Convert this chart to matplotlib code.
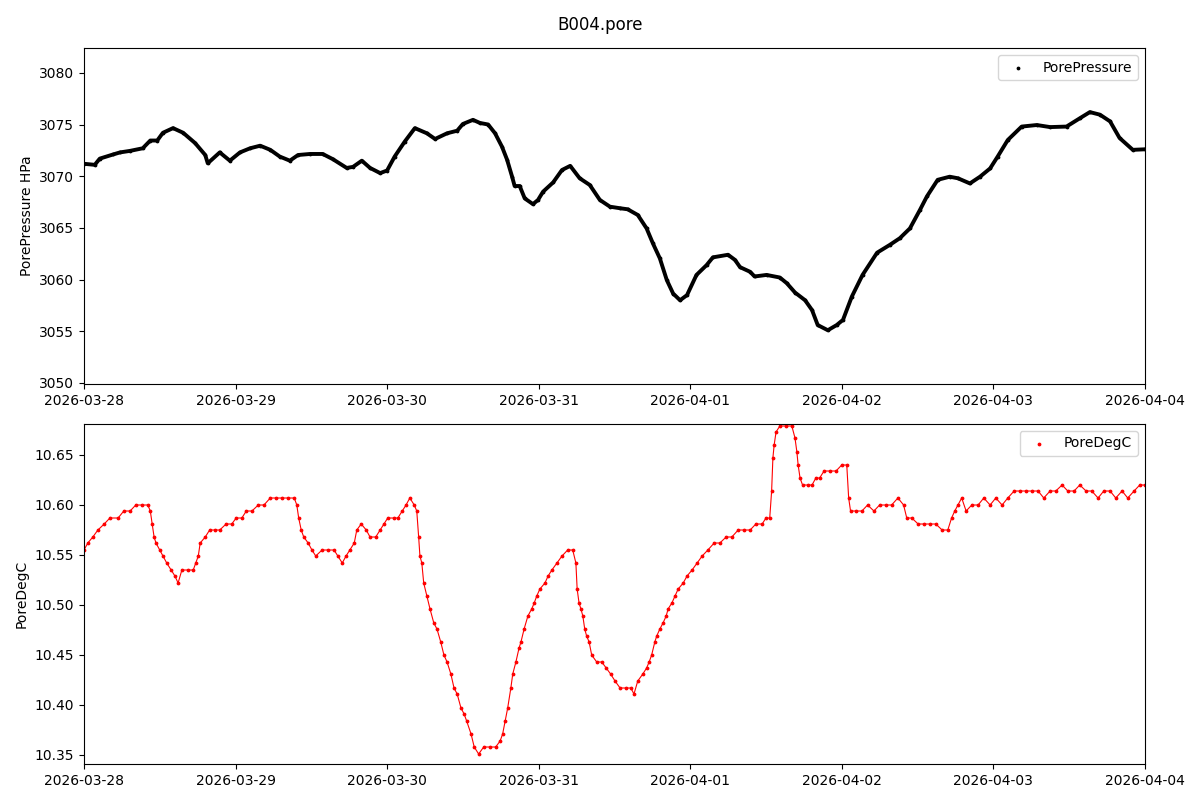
import numpy as np
import pandas as pd
import matplotlib
matplotlib.use("Agg")
import matplotlib.pyplot as plt
import matplotlib.dates as mdates

# readings of station B004, hours after 2026-03-28 00:00
start = pd.Timestamp("2026-03-28")

pres_hours = [0.0, 1.7, 2.5, 4.6, 5.7, 7.3, 9.3, 10.5, 11.6, 12.5, 14.1, 15.7, 17.6, 19.2, 19.6,
              21.5, 23.1, 24.7, 26.3, 27.9, 29.5, 31.0, 32.6, 33.9, 35.8, 37.8, 39.4, 41.6, 42.6,
              44.0, 45.3, 46.9, 48.0, 49.2, 50.8, 52.4, 54.3, 55.6, 57.5, 59.1, 60.0, 61.6, 62.7,
              64.0, 65.1, 66.2, 67.0, 67.8, 68.2, 69.0, 69.8, 71.1, 71.9, 72.7, 74.3, 75.7, 77.0,
              78.5, 80.1, 81.7, 83.3, 84.9, 86.1, 87.7, 89.1, 90.1, 91.2, 92.3, 93.3, 94.4, 95.5,
              97.0, 98.6, 99.6, 102.0, 103.1, 103.9, 105.5, 106.2, 108.1, 110.2, 111.3, 112.6,
              114.2, 115.3, 116.2, 117.8, 119.2, 120.2, 121.6, 123.3, 125.6, 127.6, 129.2, 130.8,
              132.4, 133.5, 135.2, 137.1, 138.4, 140.3, 141.9, 143.5, 144.7, 146.3, 148.5, 150.9,
              153.0, 155.6, 157.7, 159.3, 160.9, 162.5, 164.0, 166.1, 168.0]
pres_vals = [3071.2, 3071.1, 3071.7, 3072.1, 3072.3, 3072.45, 3072.7, 3073.45, 3073.45, 3074.2,
             3074.65, 3074.2, 3073.2, 3072.05, 3071.25, 3072.3, 3071.5, 3072.3, 3072.7, 3072.95,
             3072.55, 3071.9, 3071.5, 3072.05, 3072.15, 3072.15, 3071.65, 3070.8, 3070.9, 3071.5,
             3070.8, 3070.3, 3070.55, 3071.9, 3073.35, 3074.65, 3074.15, 3073.6, 3074.15, 3074.4,
             3075.05, 3075.45, 3075.15, 3075.0, 3074.15, 3072.85, 3071.6, 3069.95, 3069.05, 3069.05,
             3067.85, 3067.3, 3067.7, 3068.5, 3069.4, 3070.6, 3071.0, 3069.8, 3069.15, 3067.7,
             3067.05, 3066.9, 3066.8, 3066.25, 3064.95, 3063.5, 3062.05, 3059.95, 3058.65, 3058.0,
             3058.5, 3060.45, 3061.4, 3062.15, 3062.4, 3061.9, 3061.2, 3060.75, 3060.3, 3060.45,
             3060.2, 3059.65, 3058.75, 3058.0, 3057.05, 3055.6, 3055.1, 3055.6, 3056.1, 3058.35,
             3060.45, 3062.6, 3063.35, 3064.0, 3064.95, 3066.75, 3068.05, 3069.65, 3069.95, 3069.8,
             3069.3, 3069.95, 3070.75, 3071.9, 3073.5, 3074.8, 3074.95, 3074.75, 3074.8, 3075.6,
             3076.2, 3075.95, 3075.3, 3073.7, 3072.55, 3072.6]

temp_hours = [0.0, 0.6, 1.4, 2.2, 3.2, 4.1, 5.4, 6.3, 7.3, 8.2, 9.2, 10.1, 10.5, 10.8, 11.1, 11.4,
              12.0, 12.5, 13.1, 13.8, 14.4, 14.9, 15.5, 16.5, 17.3, 17.7, 18.1, 18.4, 19.2, 19.9,
              20.7, 21.5, 22.5, 23.4, 24.1, 25.0, 25.7, 26.6, 27.6, 28.5, 29.5, 30.4, 31.4, 32.3,
              33.3, 33.7, 34.0, 34.4, 34.8, 35.5, 36.1, 36.7, 37.7, 38.6, 39.6, 40.2, 40.9, 41.5,
              42.1, 42.8, 43.2, 43.9, 44.7, 45.3, 46.2, 46.9, 47.5, 48.1, 49.1, 49.7, 50.4, 51.0,
              51.6, 52.3, 52.7, 53.0, 53.2, 53.5, 53.8, 54.3, 54.8, 55.4, 55.9, 56.5, 57.0, 57.5,
              58.1, 58.6, 59.1, 59.7, 60.2, 60.6, 61.3, 61.8, 62.5, 63.3, 64.3, 65.2, 65.9, 66.3,
              66.7, 67.1, 67.6, 67.9, 68.4, 68.9, 69.2, 69.7, 70.3, 70.9, 71.3, 71.7, 72.2, 73.0,
              73.5, 74.1, 74.9, 75.7, 76.6, 77.4, 77.9, 78.1, 78.4, 78.7, 79.0, 79.3, 79.6, 80.0,
              80.4, 81.2, 82.0, 82.7, 83.4, 84.1, 84.9, 85.8, 86.6, 87.1, 87.7, 88.5, 89.1, 89.5,
              89.9, 90.4, 90.7, 91.2, 91.7, 92.2, 92.5, 93.1, 93.6, 94.1, 94.9, 95.5, 96.3, 97.1,
              97.9, 98.8, 99.8, 100.7, 101.7, 102.6, 103.6, 104.5, 105.5, 106.4, 107.4, 108.0,
              108.6, 108.9, 109.1, 109.3, 109.6, 110.2, 111.2, 112.1, 112.6, 112.9, 113.1, 113.4,
              113.8, 114.6, 115.3, 115.9, 116.5, 117.2, 118.1, 119.1, 120.0, 120.8, 121.1, 121.4,
              122.2, 123.2, 124.1, 125.1, 126.0, 127.0, 127.9, 128.9, 129.8, 130.3, 131.1, 132.1,
              133.0, 134.0, 134.9, 135.9, 136.8, 137.4, 137.9, 138.4, 139.0, 139.7, 140.6, 141.6,
              142.5, 143.5, 144.4, 145.4, 146.3, 147.3, 148.2, 149.2, 150.1, 151.1, 152.0, 153.0,
              153.9, 154.9, 155.8, 156.8, 157.7, 158.7, 159.6, 160.6, 161.5, 162.5, 163.4, 164.4,
              165.3, 166.3, 167.2, 168.0]
temp_vals = [10.555, 10.562, 10.568, 10.575, 10.581, 10.587, 10.587, 10.594, 10.594, 10.600, 10.600,
             10.600, 10.594, 10.581, 10.568, 10.562, 10.555, 10.549, 10.542, 10.535, 10.529, 10.522,
             10.535, 10.535, 10.535, 10.542, 10.549, 10.562, 10.568, 10.575, 10.575, 10.575, 10.581,
             10.581, 10.587, 10.587, 10.594, 10.594, 10.600, 10.600, 10.607, 10.607, 10.607, 10.607,
             10.607, 10.600, 10.587, 10.575, 10.568, 10.562, 10.555, 10.549, 10.555, 10.555, 10.555,
             10.549, 10.542, 10.549, 10.555, 10.562, 10.575, 10.581, 10.575, 10.568, 10.568, 10.575,
             10.581, 10.587, 10.587, 10.587, 10.594, 10.600, 10.607, 10.600, 10.594, 10.568, 10.549,
             10.542, 10.522, 10.509, 10.496, 10.482, 10.476, 10.463, 10.450, 10.443, 10.431, 10.417,
             10.411, 10.397, 10.391, 10.384, 10.371, 10.358, 10.351, 10.358, 10.358, 10.358, 10.364,
             10.371, 10.384, 10.397, 10.417, 10.431, 10.443, 10.457, 10.463, 10.476, 10.489, 10.496,
             10.502, 10.509, 10.516, 10.522, 10.529, 10.535, 10.542, 10.549, 10.555, 10.555, 10.542,
             10.516, 10.502, 10.496, 10.489, 10.476, 10.469, 10.463, 10.450, 10.443, 10.443, 10.437,
             10.431, 10.424, 10.417, 10.417, 10.417, 10.411, 10.424, 10.431, 10.437, 10.443, 10.450,
             10.463, 10.469, 10.476, 10.482, 10.489, 10.496, 10.502, 10.509, 10.516, 10.522, 10.529,
             10.535, 10.542, 10.549, 10.555, 10.562, 10.562, 10.568, 10.568, 10.575, 10.575, 10.575,
             10.581, 10.581, 10.587, 10.587, 10.614, 10.647, 10.660, 10.673, 10.679, 10.679, 10.679,
             10.667, 10.653, 10.640, 10.627, 10.620, 10.620, 10.620, 10.627, 10.627, 10.634, 10.634,
             10.634, 10.640, 10.640, 10.607, 10.594, 10.594, 10.594, 10.600, 10.594, 10.600, 10.600,
             10.600, 10.607, 10.600, 10.587, 10.587, 10.581, 10.581, 10.581, 10.581, 10.575, 10.575,
             10.587, 10.594, 10.600, 10.607, 10.594, 10.600, 10.600, 10.607, 10.600, 10.607, 10.600,
             10.607, 10.614, 10.614, 10.614, 10.614, 10.614, 10.607, 10.614, 10.614, 10.620, 10.614,
             10.614, 10.620, 10.614, 10.614, 10.607, 10.614, 10.614, 10.607, 10.614, 10.607, 10.614,
             10.620, 10.620]

pres_t = start + pd.to_timedelta(pres_hours, unit="h")
temp_t = start + pd.to_timedelta(temp_hours, unit="h")

fig = plt.figure(figsize=(12, 8), dpi=100)
fig.suptitle("B004.pore", y=0.98, fontsize=12)
ax1 = fig.add_axes([0.07, 0.52, 0.884, 0.42])
ax2 = fig.add_axes([0.07, 0.045, 0.884, 0.425])

# dense logger samples look like a thick line at this scale
ax1.plot(pres_t, pres_vals, color="black", lw=2.8)
ax1.scatter(pres_t, pres_vals, s=3, c="black", label="PorePressure")
ax1.set_ylim(3049.9, 3082.4)
ax1.set_ylabel("PorePressure HPa")
ax1.legend(loc="upper right")

ax2.plot(temp_t, temp_vals, color="red", lw=0.8)
ax2.scatter(temp_t, temp_vals, s=3, c="red", label="PoreDegC")
ax2.set_ylim(10.341, 10.681)
ax2.set_ylabel("PoreDegC")
ax2.legend(loc="upper right")

for ax in (ax1, ax2):
    ax.set_xlim(start, start + pd.Timedelta(days=7))
    ax.xaxis.set_major_locator(mdates.DayLocator())
    ax.xaxis.set_major_formatter(mdates.DateFormatter("%Y-%m-%d"))

fig.savefig("out.png")
